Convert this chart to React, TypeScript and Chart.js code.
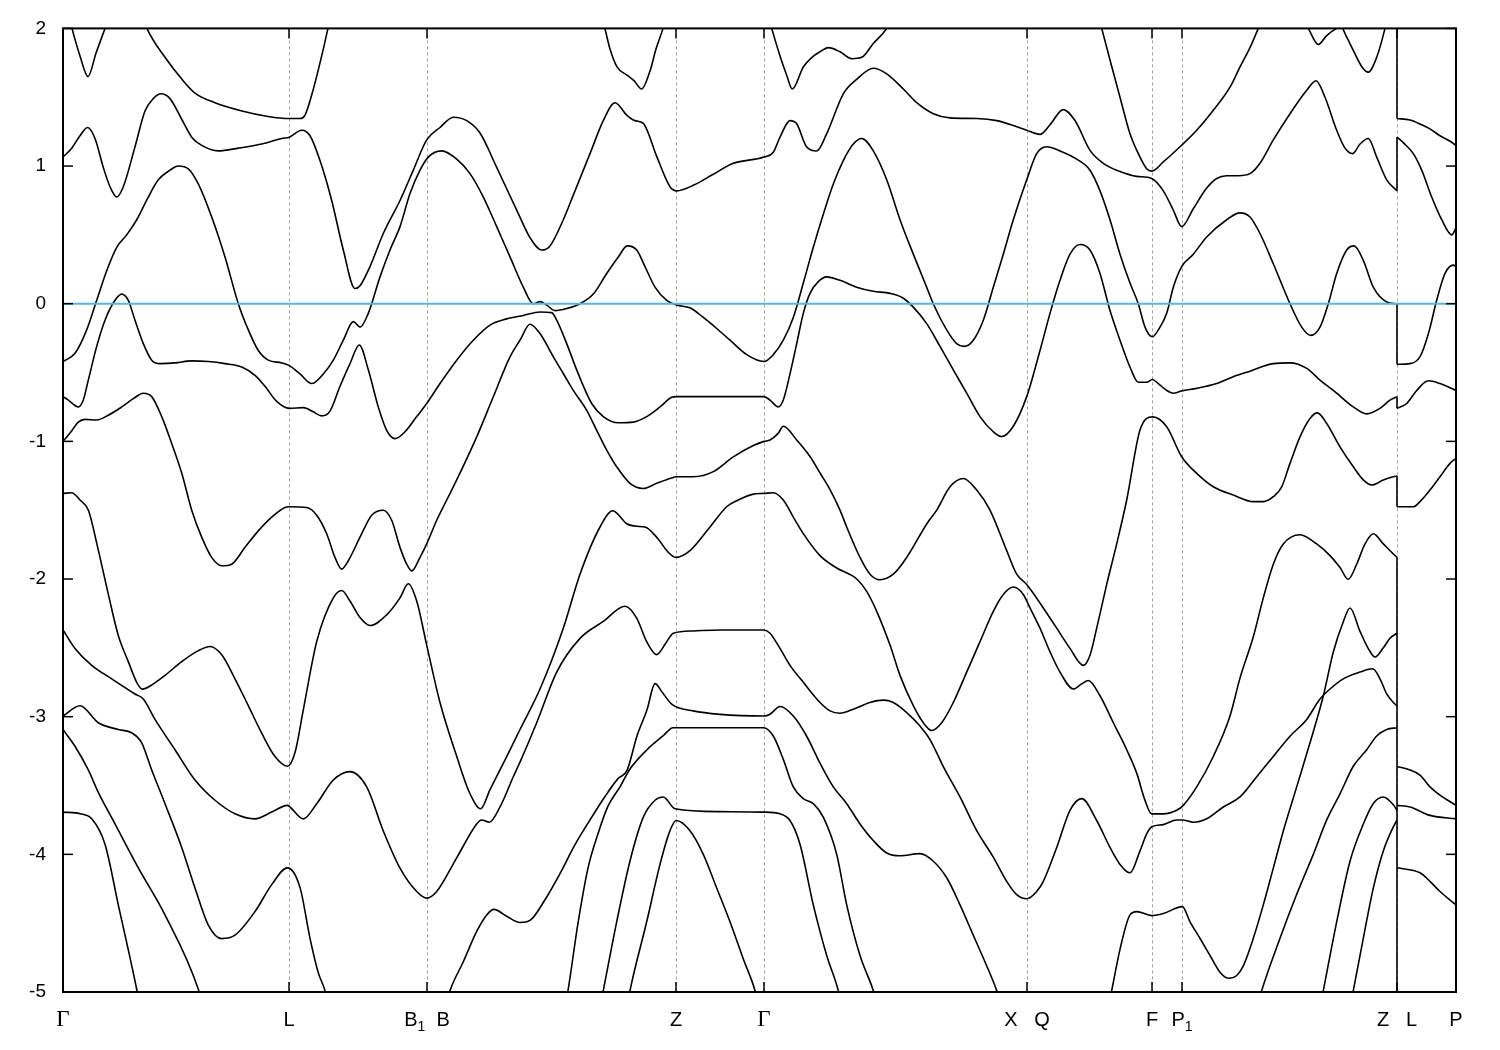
import React, { useEffect, useRef } from 'react';
import { Chart, registerables } from 'chart.js';

Chart.register(...registerables);

type Pt = [number, number];

// k-path positions of the high-symmetry points and their labels ("_x" = subscript)
const kTicks: number[] = [0, 226, 364, 613, 701, 964, 1089, 1119, 1334, 1393];
const kLabels: string[] = ['Γ', 'L', 'B_1  B', 'Z', 'Γ', 'X   Q', 'F', 'P_1', 'Z   L', 'P'];
const eTicks: number[] = [-5, -4, -3, -2, -1, 0, 1, 2];
const kMax = 1393;
const kBreak = 1334;
const fermiLevel = 0;

// ---- bands on the Γ-L-B1|B-Z-Γ-X|Q-F-P1-Z path ----
const bandA: Pt[] = [[0,2.3],[5,2.12],[9,2.0],[17,1.8],[25,1.65],[33,1.82],[42,2.0],[52,2.2],[67,2.3],[77,2.15],[84,2.0],[102,1.79],[119,1.63],[132,1.53],[152,1.46],[179,1.4],[205,1.36],[226,1.345],[237,1.345],[242,1.37],[250,1.55],[260,1.84],[265,2.0],[272,2.2],[337,2.5],[437,2.5],[527,2.25],[540,2.05],[547,1.85],[554,1.72],[564,1.66],[571,1.62],[578.7,1.56],[587,1.69],[593,1.85],[600,2.0],[607,2.2],[613,2.3],[701,2.2],[708.7,2.0],[717,1.8],[723.7,1.66],[729.3,1.56],[740.3,1.72],[749,1.79],[757,1.83],[765.3,1.86],[777,1.83],[788.7,1.78],[798.7,1.79],[810.3,1.89],[823.7,2.0],[837,2.2],[937,2.5],[1027,2.3],[1038.7,2.0],[1047,1.77],[1057,1.5],[1067,1.235],[1077,1.065],[1083.7,0.98],[1088.7,0.963],[1100.3,1.03],[1117,1.14],[1133.7,1.26],[1150.3,1.405],[1167,1.573],[1177,1.72],[1187,1.86],[1195.3,2.0],[1207,2.2],[1227,2.2],[1237,2.1],[1245.3,2.0],[1255.3,1.883],[1263.7,1.948],[1273.7,2.0],[1278,2.01],[1283.7,1.936],[1292,1.815],[1299,1.72],[1305.3,1.682],[1313.7,1.79],[1322,2.0],[1328,2.2],[1334,2.35]];
const bandC: Pt[] = [[0,1.065],[8.7,1.13],[17,1.22],[24.7,1.28],[32,1.2],[40.3,0.99],[47,0.85],[53.7,0.775],[60.3,0.85],[72,1.14],[82,1.4],[90.3,1.49],[98,1.525],[107,1.49],[118.7,1.34],[128.7,1.21],[138.7,1.15],[155.3,1.11],[175.3,1.13],[198.7,1.16],[218.7,1.2],[226.3,1.21],[238.7,1.26],[247,1.22],[257,1.04],[268.7,0.75],[280.3,0.39],[292,0.11],[297,0.13],[307,0.27],[320.3,0.51],[337,0.75],[350.3,0.97],[363.7,1.19],[377,1.28],[390.3,1.355],[403.7,1.33],[417,1.24],[433.7,0.99],[453.7,0.68],[467,0.48],[478.7,0.39],[487,0.42],[500.3,0.61],[512,0.82],[527,1.09],[540.3,1.33],[552,1.46],[563.7,1.37],[572,1.33],[580.3,1.31],[593.7,1.07],[607,0.85],[613.7,0.82],[630.3,0.86],[650.3,0.94],[670.3,1.02],[701,1.065],[710.3,1.1],[717,1.21],[727,1.33],[733.7,1.307],[743.7,1.138],[753.7,1.109],[763.7,1.235],[780.3,1.525],[793.7,1.63],[810.3,1.71],[823.7,1.67],[840.3,1.56],[853.7,1.46],[870.3,1.38],[887,1.35],[913.7,1.345],[933.7,1.33],[950.3,1.295],[963.7,1.26],[977,1.23],[987,1.3],[1000.3,1.41],[1012,1.331],[1027,1.114],[1040.3,1.02],[1057,0.96],[1073.7,0.925],[1088.7,0.91],[1100.3,0.82],[1110.3,0.68],[1118.7,0.56],[1130.3,0.69],[1143.7,0.84],[1153.7,0.91],[1163.7,0.93],[1175.3,0.93],[1187,0.945],[1197,1.02],[1210.3,1.19],[1227,1.38],[1243.7,1.55],[1253,1.62],[1262,1.5],[1273.7,1.26],[1282,1.13],[1289.7,1.09],[1297,1.16],[1305.3,1.2],[1313.7,1.065],[1323.7,0.9],[1334,0.82]];
const bandD: Pt[] = [[0,-0.42],[12,-0.36],[23.7,-0.19],[33.7,0.025],[43.7,0.24],[53.7,0.41],[63.7,0.5],[73.7,0.61],[85.3,0.775],[95.3,0.9],[107,0.97],[115.3,1.0],[125.3,0.98],[135.3,0.87],[148.7,0.63],[162,0.34],[175.3,0.0],[185.3,-0.19],[195.3,-0.34],[205.3,-0.41],[218.7,-0.43],[226.3,-0.45],[237,-0.51],[248.7,-0.58],[260.3,-0.51],[270.3,-0.41],[280.3,-0.265],[290.3,-0.13],[297,-0.17],[305.3,-0.07],[317,0.195],[327,0.39],[337,0.56],[347,0.8],[357,0.97],[365.3,1.065],[378.7,1.11],[393.7,1.05],[407,0.945],[420.3,0.775],[433.7,0.56],[447,0.34],[460.3,0.12],[470.3,0.0],[477,0.015],[483.7,-0.01],[492,-0.05],[503.7,-0.035],[517,0.0],[530.3,0.07],[543.7,0.22],[555.3,0.34],[564.3,0.42],[573.7,0.39],[582,0.27],[592,0.12],[603.7,0.025],[613.7,-0.01],[627,-0.03],[640.3,-0.1],[653.7,-0.18],[667,-0.265],[683.7,-0.37],[701,-0.42],[710.3,-0.37],[720.3,-0.265],[730.3,-0.1],[740.3,0.15],[750.3,0.41],[760.3,0.65],[770.3,0.87],[780.3,1.04],[790.3,1.16],[798.7,1.2],[810.3,1.11],[823.7,0.9],[837,0.61],[850.3,0.36],[863.7,0.12],[870.3,0.0],[883.7,-0.19],[893.7,-0.29],[901,-0.31],[910.3,-0.265],[920.3,-0.12],[930.3,0.12],[940.3,0.36],[950.3,0.61],[963.7,0.9],[973.7,1.09],[983.7,1.14],[997,1.11],[1013.7,1.05],[1027,0.97],[1037,0.82],[1047,0.61],[1057,0.36],[1067,0.15],[1075.3,0.0],[1082,-0.17],[1089.3,-0.24],[1097,-0.17],[1103.7,-0.07],[1110.3,0.12],[1118.7,0.27],[1130.3,0.36],[1143.7,0.485],[1163.7,0.61],[1177,0.66],[1187,0.63],[1197,0.51],[1210.3,0.29],[1227,0.0],[1238.7,-0.17],[1247.7,-0.23],[1257,-0.17],[1265.3,0.0],[1273.7,0.22],[1283.7,0.39],[1291,0.42],[1300.3,0.315],[1310.3,0.12],[1323.7,0.013],[1334,0.0]];
const bandE: Pt[] = [[0,-0.675],[5.3,-0.7],[15.3,-0.75],[20.3,-0.7],[25.3,-0.555],[33.7,-0.31],[42,-0.12],[52,0.025],[58.7,0.07],[65.3,0.025],[72,-0.12],[80.3,-0.29],[88.7,-0.41],[97,-0.435],[112,-0.43],[128.7,-0.415],[145.3,-0.42],[162,-0.435],[178.7,-0.46],[192,-0.52],[202,-0.6],[213.7,-0.71],[226.3,-0.76],[240.3,-0.755],[250.3,-0.785],[258.7,-0.815],[267,-0.78],[277,-0.6],[287,-0.435],[296.3,-0.3],[305.3,-0.48],[315.3,-0.75],[323.7,-0.92],[332,-0.98],[342,-0.93],[353.7,-0.82],[363.7,-0.725],[377,-0.58],[393.7,-0.41],[410.3,-0.265],[427,-0.155],[443.7,-0.11],[460.3,-0.085],[477,-0.06],[488.7,-0.065],[493.7,-0.12],[503.7,-0.29],[515.3,-0.51],[528.7,-0.725],[540.3,-0.82],[555.3,-0.865],[570.3,-0.86],[583.7,-0.82],[597,-0.75],[608.7,-0.68],[613.7,-0.675],[657,-0.675],[701,-0.675],[707,-0.7],[715.3,-0.75],[720.3,-0.7],[727,-0.51],[733.7,-0.29],[740.3,-0.07],[747,0.075],[755.3,0.16],[763.7,0.195],[777,0.17],[793.7,0.12],[810.3,0.09],[827,0.075],[840.3,0.04],[850.3,-0.025],[863.7,-0.145],[877,-0.31],[890.3,-0.48],[903.7,-0.65],[917,-0.82],[930.3,-0.93],[938.7,-0.965],[950.3,-0.89],[963.7,-0.675],[977,-0.34],[987,-0.07],[997,0.17],[1007,0.36],[1017,0.43],[1027,0.39],[1037,0.22],[1047,-0.05],[1057,-0.265],[1067,-0.46],[1075.3,-0.57],[1083.7,-0.57],[1089.3,-0.55],[1095.3,-0.58],[1103.7,-0.63],[1110.3,-0.65],[1118.7,-0.633],[1133.7,-0.615],[1153.7,-0.58],[1170.3,-0.53],[1187,-0.49],[1210.3,-0.435],[1227,-0.43],[1243.7,-0.47],[1257,-0.555],[1273.7,-0.65],[1290.3,-0.75],[1303.7,-0.8],[1317,-0.76],[1327,-0.7],[1334,-0.675]];
const bandF: Pt[] = [[0,-1.0],[7,-0.94],[15.3,-0.86],[22,-0.84],[33.7,-0.845],[45.3,-0.81],[58.7,-0.75],[70.3,-0.69],[80.3,-0.65],[88.7,-0.675],[98.7,-0.82],[108.7,-1.015],[118.7,-1.23],[128.7,-1.5],[138.7,-1.696],[148.7,-1.843],[158.7,-1.904],[168.7,-1.892],[182,-1.77],[195.3,-1.65],[208.7,-1.55],[222,-1.48],[226.3,-1.475],[243.7,-1.48],[253.7,-1.536],[263.7,-1.671],[272,-1.843],[278.7,-1.928],[285.3,-1.867],[297,-1.696],[308.7,-1.536],[320.3,-1.5],[328.7,-1.573],[337,-1.77],[343.7,-1.892],[348.7,-1.941],[357,-1.843],[363.7,-1.745],[373.7,-1.573],[383.7,-1.426],[393.7,-1.28],[413.7,-0.967],[430.3,-0.676],[447,-0.386],[457,-0.265],[467,-0.149],[477,-0.217],[490.3,-0.386],[500.3,-0.507],[510.3,-0.63],[523.7,-0.775],[533.7,-0.92],[543.7,-1.063],[553.7,-1.184],[567,-1.305],[580.3,-1.342],[593.7,-1.305],[607,-1.27],[613.7,-1.257],[630.3,-1.257],[650.3,-1.22],[670.3,-1.113],[690.3,-1.03],[701,-1.0],[707,-0.99],[715.3,-0.94],[720.3,-0.89],[733.7,-0.99],[747,-1.11],[757,-1.23],[767,-1.35],[777,-1.499],[783.7,-1.622],[797,-1.843],[807,-1.965],[817,-2.005],[830.3,-1.965],[843.7,-1.843],[863.7,-1.6],[873.7,-1.499],[887,-1.33],[900.3,-1.27],[913.7,-1.354],[927,-1.499],[943.7,-1.794],[953.7,-1.965],[963.7,-2.04],[980.3,-2.21],[993.7,-2.357],[1007,-2.504],[1020.3,-2.627],[1027,-2.553],[1033.7,-2.357],[1043.7,-2.039],[1053.7,-1.745],[1063.7,-1.426],[1077,-0.918],[1089.7,-0.822],[1103.7,-0.894],[1118.7,-1.112],[1133.7,-1.233],[1150.3,-1.33],[1170.3,-1.39],[1190.3,-1.438],[1200.3,-1.438],[1210.3,-1.402],[1218.7,-1.33],[1227,-1.16],[1237,-0.967],[1247,-0.834],[1254.3,-0.793],[1263.7,-0.87],[1277,-1.04],[1290.3,-1.185],[1300.3,-1.28],[1308.7,-1.317],[1320.3,-1.281],[1330.3,-1.257],[1334,-1.252]];
const bandH: Pt[] = [[0,-1.378],[8.7,-1.373],[17,-1.426],[25.3,-1.499],[35.3,-1.79],[45.3,-2.11],[55.3,-2.41],[65.3,-2.6],[73.7,-2.75],[79.3,-2.8],[88.7,-2.77],[102,-2.7],[118.7,-2.6],[135.3,-2.52],[147,-2.49],[158.7,-2.55],[172,-2.725],[185.3,-2.92],[198.7,-3.12],[212,-3.29],[224.3,-3.36],[232,-3.26],[240.3,-2.95],[253.7,-2.455],[270.3,-2.137],[278.7,-2.083],[287,-2.16],[297,-2.28],[307,-2.338],[323.7,-2.26],[337,-2.137],[345.3,-2.034],[353.7,-2.16],[363.7,-2.48],[377,-2.897],[393.7,-3.288],[407,-3.56],[417.7,-3.669],[427,-3.53],[443.7,-3.29],[457,-3.093],[477,-2.799],[500.3,-2.357],[517,-1.965],[537,-1.622],[549.7,-1.504],[563.7,-1.598],[573.7,-1.617],[582,-1.622],[593.7,-1.696],[605.3,-1.806],[613,-1.843],[627,-1.794],[647,-1.622],[663.7,-1.475],[675.3,-1.426],[690.3,-1.383],[701,-1.378],[710.3,-1.373],[720.3,-1.426],[730.3,-1.55],[740.3,-1.67],[757,-1.83],[773.7,-1.92],[793.7,-2.0],[803.7,-2.09],[813.7,-2.235],[827,-2.48],[837,-2.7],[850.3,-2.92],[860.3,-3.044],[868.7,-3.1],[878.7,-3.044],[890.3,-2.897],[903.7,-2.676],[917,-2.455],[930.3,-2.235],[940.3,-2.112],[950.3,-2.058],[960.3,-2.112],[967,-2.21],[977,-2.357],[987,-2.529],[997,-2.676],[1010.3,-2.799],[1018.7,-2.762],[1025.3,-2.737],[1037,-2.848],[1050.3,-3.044],[1063.7,-3.24],[1073.7,-3.41],[1082,-3.608],[1088.7,-3.706],[1100.3,-3.706],[1113.7,-3.68],[1120.3,-3.644],[1133.7,-3.51],[1150.3,-3.289],[1167,-2.995],[1177,-2.72],[1190.3,-2.42],[1200.3,-2.137],[1210.3,-1.892],[1220.3,-1.745],[1237,-1.678],[1253.7,-1.745],[1267,-1.83],[1277,-1.916],[1285.3,-2.002],[1293.7,-1.892],[1302,-1.745],[1310.3,-1.671],[1320.3,-1.745],[1330.3,-1.818],[1334,-1.843]];
const bandI: Pt[] = [[0,-2.37],[12,-2.504],[28.7,-2.627],[48.7,-2.725],[72,-2.835],[80.3,-2.872],[92,-3.019],[112,-3.24],[132,-3.46],[152,-3.607],[172,-3.705],[192,-3.742],[208.7,-3.693],[224.3,-3.644],[227,-3.656],[240.3,-3.742],[253.7,-3.632],[270.3,-3.46],[287,-3.399],[303.7,-3.51],[320.3,-3.83],[337,-4.1],[353.7,-4.27],[363.7,-4.318],[373.7,-4.27],[393.7,-4.025],[413.7,-3.779],[418.7,-3.75],[426.3,-3.767],[437,-3.656],[450.3,-3.436],[457,-3.33],[473.7,-3.044],[493.7,-2.676],[517,-2.431],[540.3,-2.308],[562,-2.198],[573.7,-2.284],[583.7,-2.455],[593.7,-2.549],[603.7,-2.455],[610.3,-2.394],[630.3,-2.377],[657,-2.37],[701,-2.37],[707,-2.394],[717,-2.504],[727,-2.627],[740.3,-2.75],[757,-2.897],[767,-2.958],[777,-2.975],[790.3,-2.946],[807,-2.897],[820.3,-2.88],[830.3,-2.897],[843.7,-2.97],[857,-3.068],[867,-3.166],[880.3,-3.362],[897,-3.583],[913.7,-3.828],[930.3,-4.02],[943.7,-4.196],[953.7,-4.293],[963.7,-4.323],[973.7,-4.27],[980.3,-4.196],[993.7,-3.95],[1007,-3.68],[1018.7,-3.595],[1033.7,-3.754],[1047,-3.95],[1057,-4.073],[1067,-4.134],[1077,-3.975],[1083.7,-3.852],[1088.7,-3.8],[1100.3,-3.784],[1113.7,-3.75],[1119.3,-3.75],[1130.3,-3.767],[1143.7,-3.742],[1160.3,-3.656],[1177,-3.583],[1193.7,-3.436],[1210.3,-3.289],[1227,-3.142],[1243.7,-3.02],[1257,-2.872],[1267,-2.799],[1280.3,-2.725],[1297,-2.676],[1309.7,-2.652],[1317,-2.725],[1323.7,-2.835],[1330.3,-2.897],[1334,-2.921]];
const bandJ: Pt[] = [[0,-2.995],[17,-2.921],[35.3,-3.044],[55.3,-3.093],[68.7,-3.117],[78.7,-3.19],[88.7,-3.387],[102,-3.632],[118.7,-3.95],[132,-4.245],[145.3,-4.514],[158.7,-4.612],[172,-4.587],[192,-4.416],[208.7,-4.22],[224.3,-4.098],[237,-4.24],[247,-4.61],[255.3,-4.86],[262,-4.99],[272,-5.3],[327,-5.8],[377,-5.25],[387,-4.99],[400.3,-4.78],[413.7,-4.56],[423.7,-4.44],[431,-4.4],[443.7,-4.45],[457,-4.495],[467,-4.48],[482,-4.33],[497,-4.14],[512,-3.93],[527,-3.75],[542,-3.58],[555,-3.45],[564,-3.39],[574,-3.14],[584,-2.95],[592,-2.76],[599,-2.82],[608.7,-2.909],[630.3,-2.958],[657,-2.983],[701,-2.995],[707,-2.982],[717,-2.926],[730.3,-2.995],[743.7,-3.142],[757,-3.338],[770.3,-3.51],[783.7,-3.632],[797,-3.779],[810.3,-3.9],[823.7,-3.99],[837,-4.01],[857,-3.995],[870.3,-4.05],[883.7,-4.17],[897,-4.367],[910.3,-4.588],[923.7,-4.81],[933.7,-4.99],[947,-5.3],[997,-5.8],[1037,-5.4],[1048.7,-4.99],[1057,-4.69],[1067,-4.44],[1073.7,-4.416],[1088.7,-4.445],[1100.3,-4.43],[1119.3,-4.38],[1127,-4.49],[1137,-4.61],[1147,-4.735],[1157,-4.857],[1165.3,-4.9],[1173.7,-4.88],[1180.3,-4.81],[1190.3,-4.61],[1200.3,-4.367],[1210.3,-4.1],[1220.3,-3.83],[1233.7,-3.51],[1247,-3.19],[1260.3,-2.85],[1270.3,-2.53],[1280.3,-2.31],[1287,-2.21],[1297,-2.38],[1305.3,-2.505],[1312,-2.566],[1320.3,-2.5],[1327,-2.43],[1334,-2.394]];
const bandK: Pt[] = [[0,-3.093],[12,-3.215],[25.3,-3.387],[35.3,-3.55],[52,-3.779],[75.3,-4.098],[102,-4.44],[135.3,-4.98],[147,-5.3],[237,-6],[437,-6],[497,-5.3],[505,-4.99],[515,-4.5],[525,-4.1],[535,-3.85],[545,-3.65],[557,-3.51],[567,-3.38],[584,-3.24],[600,-3.14],[610,-3.08],[657,-3.08],[700.3,-3.08],[710.3,-3.14],[720.3,-3.31],[730.3,-3.51],[740.3,-3.595],[750.3,-3.632],[760.3,-3.73],[773.7,-4.0],[783.7,-4.367],[797,-4.735],[810.3,-4.99],[822,-5.3],[937,-6],[1137,-6],[1187,-5.3],[1198.7,-4.99],[1217,-4.61],[1233.7,-4.29],[1250.3,-4.0],[1263.7,-3.75],[1277,-3.56],[1290.3,-3.36],[1303.7,-3.24],[1313.7,-3.14],[1323.7,-3.093],[1334,-3.08]];
const bandL1: Pt[] = [[0,-3.693],[17,-3.705],[28.7,-3.742],[42,-3.926],[55.3,-4.367],[73.7,-4.98],[82,-5.3],[237,-6.5],[437,-6.5],[527,-5.5],[540.3,-4.99],[553.7,-4.49],[567,-4.048],[580.3,-3.73],[592,-3.607],[600.3,-3.583],[612,-3.669],[657,-3.69],[700.3,-3.693],[717,-3.705],[727,-3.754],[737,-3.926],[750.3,-4.367],[763.7,-4.735],[775.3,-4.99],[787,-5.4],[937,-6.5],[1187,-6.5],[1247,-5.5],[1260.3,-4.99],[1273.7,-4.49],[1287,-4.05],[1300.3,-3.78],[1310.3,-3.63],[1320.3,-3.583],[1330.3,-3.64],[1334,-3.68]];
const bandM: Pt[] = [[0,-6.5],[437,-6.5],[537,-6],[557,-5.4],[567,-4.99],[583.7,-4.49],[597,-4.073],[607,-3.828],[613,-3.754],[627,-3.828],[640.3,-4.0],[653.7,-4.245],[667,-4.49],[680.3,-4.76],[692,-4.99],[702,-5.3],[837,-6.5],[1237,-6.5],[1277,-5.5],[1290.3,-4.99],[1300.3,-4.61],[1310.3,-4.245],[1320.3,-3.975],[1330.3,-3.8],[1334,-3.754]];

// ---- bands on the L-P segment ----
const bandARight: Pt[] = [[1334,1.345],[1347,1.335],[1358.7,1.3],[1367,1.27],[1377,1.22],[1387,1.18],[1393,1.15]];
const bandCRight: Pt[] = [[1334,1.21],[1340.3,1.17],[1350.3,1.09],[1358.7,0.97],[1368.7,0.775],[1378.7,0.61],[1388.7,0.5],[1393,0.55]];
const bandDRight: Pt[] = [[1334,-0.44],[1347,-0.435],[1357,-0.385],[1365.3,-0.22],[1373.7,0.025],[1382,0.22],[1390.3,0.28],[1393,0.27]];
const bandERight: Pt[] = [[1334,-0.76],[1343.7,-0.725],[1353.7,-0.63],[1365.3,-0.56],[1377,-0.58],[1393,-0.63]];
const bandFRight: Pt[] = [[1334,-1.475],[1350.3,-1.475],[1357,-1.438],[1367,-1.354],[1377,-1.257],[1387,-1.16],[1393,-1.124]];
const bandHRight: Pt[] = [[1334,-3.362],[1347,-3.387],[1357,-3.424],[1367,-3.51],[1377,-3.57],[1393,-3.644]];
const bandIRight: Pt[] = [[1334,-3.644],[1347,-3.656],[1367,-3.717],[1393,-3.742]];
const bandJRight: Pt[] = [[1334,-4.098],[1357,-4.134],[1367,-4.196],[1377,-4.27],[1393,-4.367]];

// energies joined at the Z|L discontinuity (from, to)
const breakJumps: Pt[] = [[2.4,1.345],[1.21,0.82],[0,-0.44],[-0.675,-0.76],[-1.252,-1.475],[-1.843,-5.5]];

const allBands: Pt[][] = [
  bandA, bandC, bandD, bandE, bandF, bandH, bandI, bandJ, bandK, bandL1, bandM,
  bandARight, bandCRight, bandDRight, bandERight, bandFRight, bandHRight, bandIRight, bandJRight,
];

const SANS = "'Liberation Sans', Arial, sans-serif";
const SERIF = "'Liberation Serif', 'Times New Roman', serif";

// split "B_1  B" into [{t:'B'},{t:'1',sub:true},{t:'  B'}]
function parseLabel(s: string): { t: string; sub: boolean }[] {
  const parts: { t: string; sub: boolean }[] = [];
  let buf = '';
  for (let i = 0; i < s.length; i++) {
    if (s[i] === '_' && i + 1 < s.length) {
      if (buf) parts.push({ t: buf, sub: false });
      buf = '';
      parts.push({ t: s[i + 1], sub: true });
      i++;
    } else {
      buf += s[i];
    }
  }
  if (buf) parts.push({ t: buf, sub: false });
  return parts;
}

const framePlugin = {
  id: 'bandFrame',
  beforeDatasetsDraw(chart: any) {
    const { ctx, chartArea: a, scales } = chart;
    ctx.save();
    ctx.strokeStyle = '#a0a0a0';
    ctx.lineWidth = 1;
    ctx.setLineDash([3, 3]);
    kTicks.forEach((k) => {
      if (k === 0 || k === kMax) return;
      const px = Math.round(scales.x.getPixelForValue(k)) + 0.5;
      ctx.beginPath();
      ctx.moveTo(px, a.top);
      ctx.lineTo(px, a.bottom);
      ctx.stroke();
    });
    ctx.restore();
  },
  afterDatasetsDraw(chart: any) {
    const { ctx, chartArea: a, scales } = chart;
    ctx.save();
    ctx.strokeStyle = '#000';
    ctx.lineWidth = 2;
    ctx.strokeRect(a.left, a.top, a.right - a.left, a.bottom - a.top);
    ctx.lineWidth = 1.5;
    const tl = 10;
    const seg = (x1: number, y1: number, x2: number, y2: number) => {
      ctx.beginPath();
      ctx.moveTo(x1, y1);
      ctx.lineTo(x2, y2);
      ctx.stroke();
    };
    kTicks.forEach((k) => {
      const px = scales.x.getPixelForValue(k);
      seg(px, a.top, px, a.top + tl);
      seg(px, a.bottom, px, a.bottom - tl);
    });
    eTicks.forEach((e) => {
      const py = scales.y.getPixelForValue(e);
      seg(a.left, py, a.left + tl, py);
      seg(a.right, py, a.right - tl, py);
    });

    // x tick labels with subscripts, centred on each high-symmetry point
    ctx.fillStyle = '#000';
    ctx.textBaseline = 'alphabetic';
    ctx.textAlign = 'left';
    const baseY = a.bottom + 34;
    kTicks.forEach((k, i) => {
      const label = kLabels[i];
      const parts = parseLabel(label);
      const fontOf = (p: { t: string; sub: boolean }) =>
        p.sub ? `14px ${SANS}` : p.t === 'Γ' ? `23px ${SERIF}` : `20px ${SANS}`;
      let total = 0;
      const widths = parts.map((p) => {
        ctx.font = fontOf(p);
        const w = ctx.measureText(p.t).width;
        total += w;
        return w;
      });
      let x = scales.x.getPixelForValue(k) - total / 2;
      parts.forEach((p, j) => {
        ctx.font = fontOf(p);
        ctx.fillText(p.t, x, p.sub ? baseY + 5 : baseY);
        x += widths[j];
      });
    });
    ctx.restore();
  },
};

export default function App() {
  const ref = useRef<HTMLCanvasElement | null>(null);

  useEffect(() => {
    if (!ref.current) return;
    const bandSets = allBands.map((pts) => ({
      data: pts.map(([x, y]) => ({ x, y })),
      borderColor: '#000000',
      borderWidth: 1.6,
      pointRadius: 0,
      fill: false,
      cubicInterpolationMode: 'monotone' as const,
    }));
    const jumpData: any[] = [];
    breakJumps.forEach(([from, to]) => {
      jumpData.push({ x: kBreak, y: from }, { x: kBreak, y: to }, { x: kBreak, y: null });
    });
    const datasets: any[] = [
      {
        data: [{ x: 0, y: fermiLevel }, { x: kMax, y: fermiLevel }],
        borderColor: '#56b4e9',
        borderWidth: 2,
        pointRadius: 0,
        fill: false,
      },
      ...bandSets,
      {
        data: jumpData,
        borderColor: '#000000',
        borderWidth: 1.6,
        pointRadius: 0,
        fill: false,
        tension: 0,
        spanGaps: false,
      },
    ];

    const chart = new Chart(ref.current, {
      type: 'line',
      data: { datasets },
      plugins: [framePlugin],
      options: {
        animation: false,
        responsive: false,
        devicePixelRatio: 1,
        layout: { padding: { top: 28, right: 44, left: 0, bottom: 0 } },
        plugins: { legend: { display: false }, tooltip: { enabled: false } },
        scales: {
          x: {
            type: 'linear',
            min: 0,
            max: kMax,
            grid: { display: false, drawTicks: false },
            border: { display: false },
            afterBuildTicks: (s: any) => {
              s.ticks = kTicks.map((v) => ({ value: v }));
            },
            afterFit: (s: any) => {
              s.height = 58;
            },
            ticks: { display: false, autoSkip: false, maxRotation: 0, minRotation: 0 },
          },
          y: {
            min: -5,
            max: 2,
            grid: { display: false, drawTicks: false },
            border: { display: false },
            afterBuildTicks: (s: any) => {
              s.ticks = eTicks.map((v) => ({ value: v }));
            },
            afterFit: (s: any) => {
              s.width = 63;
            },
            ticks: {
              padding: 17,
              color: '#000',
              font: { family: SANS, size: 19 },
              callback: (v: any) => String(v),
            },
          },
        },
      } as any,
    });
    return () => chart.destroy();
  }, []);

  return (
    <div style={{ position: 'absolute', left: 0, top: 0, width: 1500, height: 1050, background: '#fff' }}>
      <canvas ref={ref} width={1500} height={1050} style={{ display: 'block' }} />
    </div>
  );
}
